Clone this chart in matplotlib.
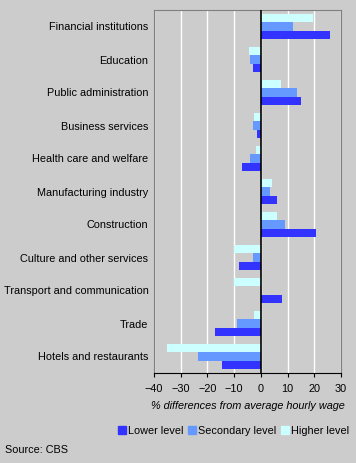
import matplotlib.pyplot as plt
import numpy as np
from matplotlib.lines import Line2D

plt.rcParams['font.family'] = ['Liberation Sans', 'DejaVu Sans']

sectors = ['Financial institutions', 'Education', 'Public administration',
           'Business services', 'Health care and welfare', 'Manufacturing industry',
           'Construction', 'Culture and other services', 'Transport and communication',
           'Trade', 'Hotels and restaurants']
lower = [25.7, -3.1, 14.9, -1.6, -6.9, 5.9, 20.5, -8.0, 8.1, -17.0, -14.7]
secondary = [12.2, -3.9, 13.4, -3.1, -4.2, 3.6, 8.9, -3.1, 0.0, -9.1, -23.7]
higher = [19.7, -4.6, 7.7, -2.4, -2.0, 4.0, 5.9, -10.0, -10.2, -2.7, -35.0]

c_low = '#3333FF'
c_sec = '#6699FF'
c_high = '#CCFFFF'
bg = '#CCCCCC'
fs = 7.8

fig = plt.figure(figsize=(3.56, 4.63), dpi=100, facecolor=bg)
ax = fig.add_axes([154/356, 1-373/463, 187/356, 363/463])
ax.set_facecolor(bg)

y = np.arange(len(sectors))
h = 0.26
ax.barh(y - h, higher, height=h, color=c_high, zorder=3)
ax.barh(y, secondary, height=h, color=c_sec, zorder=3)
ax.barh(y + h, lower, height=h, color=c_low, zorder=3)

ax.set_xlim(-40, 30)
ax.set_ylim(len(sectors) - 0.5, -0.5)
ax.set_xticks(range(-40, 31, 10))
ax.set_yticks(y)
ax.set_yticklabels(sectors, fontsize=fs)
ax.tick_params(axis='y', length=0, pad=4)
ax.tick_params(axis='x', length=3, direction='out', labelsize=fs, pad=5)
ax.grid(axis='x', color='white', linewidth=1, zorder=1)
ax.axvline(0, color='black', linewidth=1.2, zorder=4)
for s in ['top', 'left', 'right']:
    ax.spines[s].set_color('#808080')
ax.spines['bottom'].set_color('black')
ax.set_xlabel('% differences from average hourly wage', fontsize=fs,
              style='italic', labelpad=5)

handles = [Line2D([], [], marker='s', linestyle='', markersize=6, color=c)
           for c in [c_low, c_sec, c_high]]
fig.legend(handles, ['Lower level', 'Secondary level', 'Higher level'],
           loc='center right', bbox_to_anchor=(349/356, 1-431/463), ncol=3,
           frameon=False, fontsize=fs, handletextpad=0.1, columnspacing=0.35,
           handlelength=0.9, borderaxespad=0, borderpad=0)
fig.text(5/356, 1-450/463, 'Source: CBS', fontsize=fs, va='center')

fig.savefig('out.png', dpi=100, facecolor=bg)
